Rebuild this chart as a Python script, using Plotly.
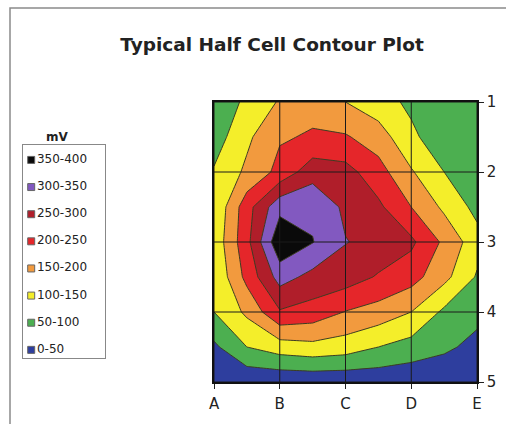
import plotly.graph_objects as go

# ---- data ----
columns = ["A", "B", "C", "D", "E"]
rows = ["1", "2", "3", "4", "5"]
# sample positions: grid points plus half-way points
x_pos = [0, 0.5, 1, 1.5, 2, 2.5, 3, 3.5, 4]
y_pos = [1, 1.5, 2, 2.5, 3, 3.5, 4, 4.5, 5]

row_1   = [65, 110, 155, 185, 150, 120, 90, 70, 60]
row_1_5 = [75, 140, 195, 205, 205, 175, 110, 70, 60]
row_2   = [105, 160, 215, 280, 268, 220, 155, 100, 75]
row_2_5 = [105, 230, 335, 340, 290, 260, 200, 140, 85]
row_3   = [115, 235, 390, 352, 302, 285, 260, 190, 120]
row_3_5 = [105, 215, 320, 285, 275, 245, 220, 165, 95]
row_4   = [100, 160, 245, 230, 198, 180, 150, 90, 65]
row_4_5 = [40, 100, 125, 135, 125, 100, 80, 60, 35]
row_5   = [10, 10, 10, 12, 12, 15, 12, 10, 5]

band_labels = ["0-50", "50-100", "100-150", "150-200", "200-250",
               "250-300", "300-350", "350-400"]
band_colors = ["#2E3E9E", "#4CAF50", "#F4EE2A", "#F29A3E", "#E5262A",
               "#B01E2A", "#8259C0", "#0A0A0A"]
level_start, level_end, level_size = 0, 400, 50

z = [row_1, row_1_5, row_2, row_2_5, row_3, row_3_5, row_4, row_4_5, row_5]

# stepped colorscale: regions below-start, each band, above-end
region_colors = [band_colors[0]] + band_colors + [band_colors[-1]]
n = len(region_colors)
colorscale = []
for i, c in enumerate(region_colors):
    lo = max(0.0, (i - 0.5) / (n - 1))
    hi = min(1.0, (i + 0.5) / (n - 1))
    colorscale.append([lo, c])
    colorscale.append([hi, c])

# ---- layout geometry (pixels) ----
W, H = 506, 424
plot_l, plot_r, plot_t, plot_b = 214, 477, 102, 382
leg_l, leg_r, leg_t, leg_b = 23, 105, 145, 358
def fx(p):
    return p / W
def fy(p):
    return 1 - p / H

FONT = "DejaVu Sans, Liberation Sans, sans-serif"

fig = go.Figure()
fig.add_trace(go.Contour(
    x=x_pos, y=y_pos, z=z,
    autocontour=False,
    contours=dict(start=level_start, end=level_end, size=level_size,
                  coloring="fill"),
    colorscale=colorscale,
    showscale=False,
    line=dict(color="#3c3c22", width=1, smoothing=0),
    hoverinfo="skip",
    showlegend=False,
    xaxis="x", yaxis="y",
))

# legend drawn on its own small axes
idx = list(range(len(band_labels)))
fig.add_trace(go.Scatter(
    x=[0.1] * len(idx), y=idx, mode="markers",
    marker=dict(symbol="square", size=7, color=band_colors,
                line=dict(width=1, color="#666")),
    xaxis="x2", yaxis="y2", showlegend=False, hoverinfo="skip",
))
fig.add_trace(go.Scatter(
    x=[0.17] * len(idx), y=idx, mode="text", text=band_labels,
    textposition="middle right",
    textfont=dict(size=12, color="#222", family=FONT),
    xaxis="x2", yaxis="y2", showlegend=False, hoverinfo="skip",
))

# grid lines at the column / row positions, drawn over the fill
shapes = []
for i in range(len(columns)):
    shapes.append(dict(type="line", xref="x", yref="y domain", x0=i, x1=i,
                       y0=0, y1=1, line=dict(color="#1a1a1a", width=1),
                       layer="above"))
for j in range(len(rows)):
    shapes.append(dict(type="line", xref="x domain", yref="y", x0=0, x1=1,
                       y0=j + 1, y1=j + 1, line=dict(color="#1a1a1a", width=1),
                       layer="above"))
# outer chart frame
shapes.append(dict(type="rect", xref="paper", yref="paper",
                   x0=fx(10), x1=fx(530), y0=fy(8), y1=fy(450),
                   line=dict(color="#8a8a8a", width=1.5), layer="below"))

fig.update_layout(
    width=W, height=H,
    margin=dict(l=0, r=0, t=0, b=0),
    paper_bgcolor="white", plot_bgcolor="white",
    font=dict(family=FONT, color="#222"),
    title=dict(text="<b>Typical Half Cell Contour Plot</b>",
               font=dict(size=18.5, color="#222", family=FONT),
               x=fx(272), xref="container", xanchor="center",
               y=fy(45), yref="container", yanchor="middle"),
    xaxis=dict(domain=[fx(plot_l), fx(plot_r)], range=[0, 4],
               tickmode="array",
               tickvals=list(range(len(columns))), ticktext=columns,
               ticks="outside", ticklen=5, tickcolor="#222",
               ticklabelstandoff=2,
               showgrid=False, zeroline=False, automargin=False,
               showline=True, linecolor="#111", linewidth=1.5, mirror=True,
               tickfont=dict(size=15, color="#222", family=FONT)),
    yaxis=dict(domain=[fy(plot_b), fy(plot_t)], range=[5, 1],
               tickmode="array",
               tickvals=[int(r) for r in rows], ticktext=rows,
               side="right", ticks="outside", ticklen=5, tickcolor="#222",
               showgrid=False, zeroline=False, automargin=False,
               showline=True, linecolor="#111", linewidth=1.5, mirror=True,
               tickfont=dict(size=15, color="#222", family=FONT)),
    xaxis2=dict(domain=[fx(leg_l), fx(leg_r)], range=[0, 1],
                anchor="y2", showticklabels=False, ticks="",
                showgrid=False, zeroline=False, automargin=False,
                showline=True, linecolor="#888", linewidth=1, mirror=True,
                fixedrange=True),
    yaxis2=dict(domain=[fy(leg_b), fy(leg_t)], range=[-0.3, 7.55],
                anchor="x2", showticklabels=False, ticks="",
                showgrid=False, zeroline=False, automargin=False,
                showline=True, linecolor="#888", linewidth=1, mirror=True,
                fixedrange=True),
    showlegend=False,
    shapes=shapes,
    annotations=[dict(text="<b>mV</b>", xref="paper", yref="paper",
                      x=fx(57), y=fy(137), showarrow=False,
                      font=dict(size=12, color="#222", family=FONT),
                      xanchor="center", yanchor="middle")],
)

fig.write_html("out.html",
               config={"displayModeBar": False},
               post_script="document.body.style.margin='0';"
                           "document.body.style.overflow='hidden';")
